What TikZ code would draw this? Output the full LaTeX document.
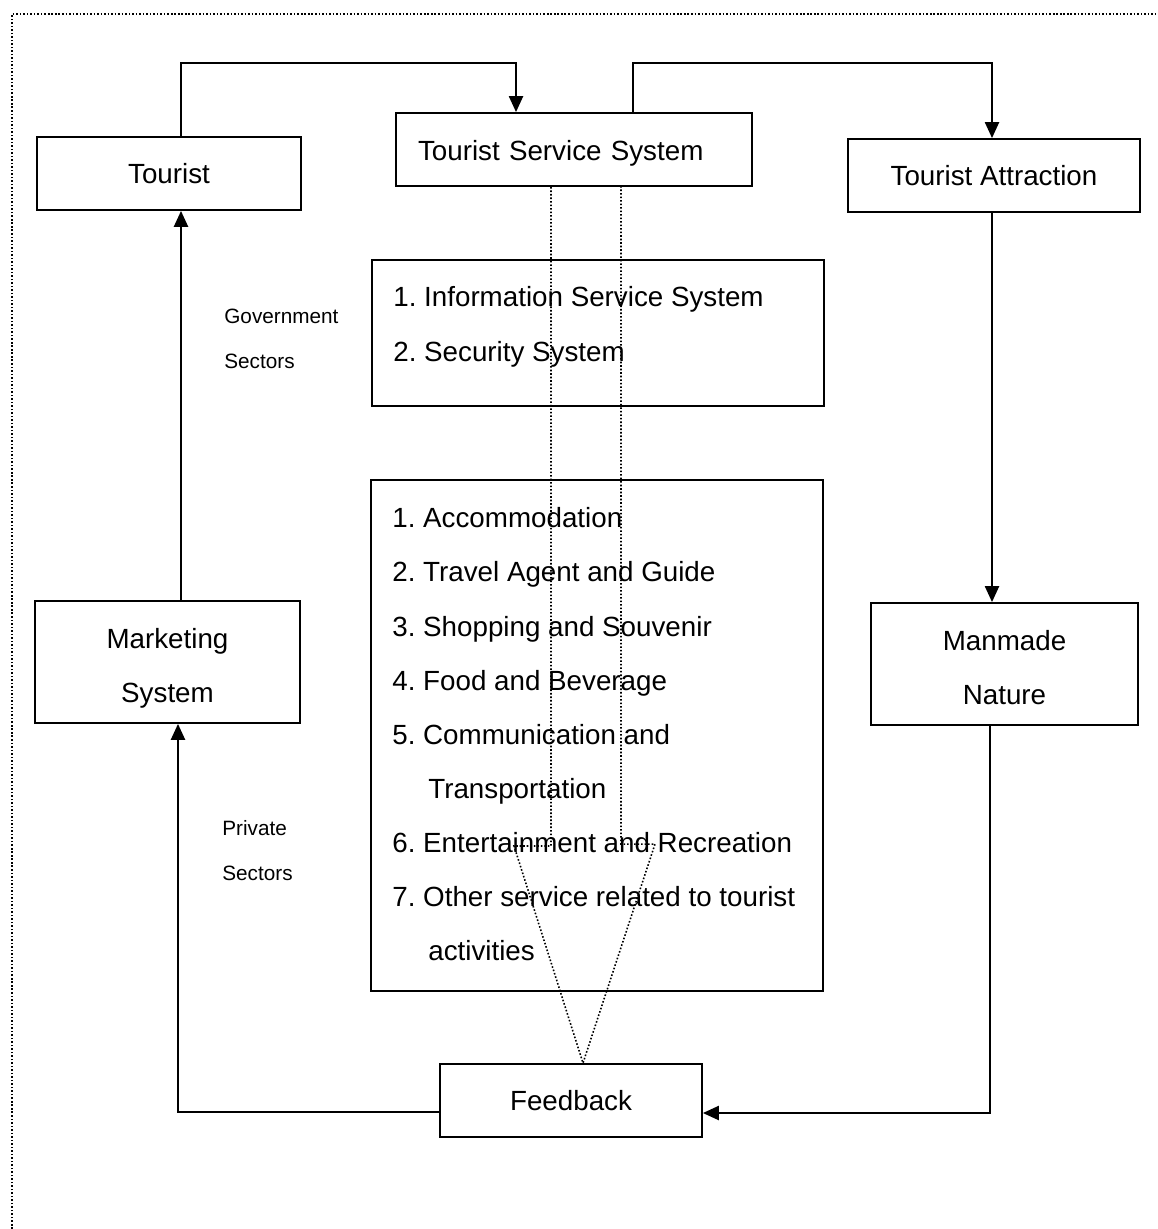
\documentclass[tikz,border=0pt]{standalone}
\usepackage{fontspec}
\setmainfont{Liberation Sans}
\frenchspacing
\usetikzlibrary{arrows.meta}
\newcommand{\lowtext}[2]{\raisebox{-#1}[\height][\depth]{#2}}
\tikzset{
  box/.style={draw, line width=1.1pt, rectangle, inner sep=0pt, align=center,
    font=\fontsize{15.8}{30.7}\selectfont},
  item/.style={inner sep=0pt, anchor=base west, font=\fontsize{15.8}{19}\selectfont},
  sector/.style={inner sep=0pt, anchor=west, font=\fontsize{11.8}{14}\selectfont},
  conn/.style={line width=1pt, -{Triangle[length=9pt,width=8pt]}},
  trace/.style={line width=0.9pt, dash pattern=on 0.9pt off 1.1pt}
}
\begin{document}
\begin{tikzpicture}[x=0.02cm, y=-0.02cm]
\useasboundingbox (0,0) rectangle (1157,1229);
\draw[trace] (12,1229) -- (12,14) -- (1157,14);
\node[box, minimum width=5.28cm, minimum height=1.46cm] (tourist) at (169,173.5) {Tourist};
\node[box, minimum width=7.12cm, minimum height=1.46cm, text width=6.24cm, inner xsep=.44cm, align=left] (tss) at (574,149.5) {\lowtext{.08cm}{Tourist Service System}};
\node[box, minimum width=5.84cm, minimum height=1.46cm] (ta) at (994,175.5) {Tourist Attraction};
\node[box, minimum width=9.04cm, minimum height=2.92cm] (gov) at (598,333) {};
\node[box, minimum width=9.04cm, minimum height=10.22cm] (priv) at (597,735.5) {};
\node[box, minimum width=5.30cm, minimum height=2.44cm] (marketing) at (167.5,662) {\lowtext{.12cm}{Marketing}\\\lowtext{.12cm}{System}};
\node[box, minimum width=5.34cm, minimum height=2.44cm] (manmade) at (1004.5,664) {\lowtext{.08cm}{Manmade}\\\lowtext{.08cm}{Nature}};
\node[box, minimum width=5.24cm, minimum height=1.46cm] (feedback) at (571,1100.5) {Feedback};
\foreach \y/\t in {297/{1. Information Service System}, 351/{2. Security System}}
  \node[item] (gov-\y) at (393,\y+10) {\t};
\foreach \y/\t in {517/{1. Accommodation}, 571/{2. Travel Agent and Guide},
  626/{3. Shopping and Souvenir}, 680/{4. Food and Beverage},
  734/{5. Communication and}, 788/{\hspace*{0.72cm}Transportation},
  842/{6. Entertainment and Recreation}, 896/{7. Other service related to tourist},
  950/{\hspace*{0.72cm}activities}}
  \node[item] (priv-\y) at (392,\y+10) {\t};
\node[sector] (gov-a) at (224,316) {Government};
\node[sector] (gov-b) at (224,361) {Sectors};
\node[sector] (priv-a) at (222,828) {Private};
\node[sector] (priv-b) at (222,873) {Sectors};
\draw[conn] ([xshift=.24cm]tourist.north) -- ++(0,-73) -| ([xshift=-1.16cm]tss.north);
\draw[conn] ([xshift=1.18cm]tss.north) -- ++(0,-49) -| ([xshift=-.04cm]ta.north);
\draw[conn] ([xshift=-.04cm]ta.south) -- ([xshift=-.04cm]ta.south |- manmade.north);
\draw[conn] ([xshift=-.29cm]manmade.south) |- ([yshift=-.25cm]feedback.east);
\draw[conn] ([yshift=-.23cm]feedback.west) -| ([xshift=.21cm]marketing.south);
\draw[conn] ([xshift=.27cm]marketing.north) -- ([xshift=.27cm]marketing.north |- tourist.south);
\draw[trace] ([xshift=-.46cm]tss.south) -- ++(0,659) -- ++(-37,0) -- ([xshift=.24cm]feedback.north)
  -- ++(72,-219) -- ++(-34,0) -- ([xshift=.94cm]tss.south);
\end{tikzpicture}
\end{document}
